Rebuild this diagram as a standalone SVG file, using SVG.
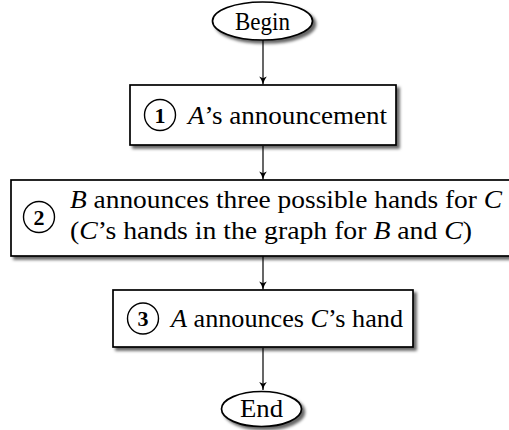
<svg xmlns="http://www.w3.org/2000/svg" width="509" height="430" viewBox="0 0 509 430">
<defs>
<filter id="sh" x="-10%" y="-10%" width="130%" height="140%"><feDropShadow dx="3" dy="3" stdDeviation="1.5" flood-color="#000" flood-opacity="0.6"/></filter>
<marker id="ar" markerUnits="userSpaceOnUse" markerWidth="10" markerHeight="10" refX="9" refY="5" orient="auto"><path d="M1,1.2 Q4.5,4 9,5 Q4.5,6 1,8.8 L2.8,5 Z" fill="#000"/></marker>
<style>
.bx{fill:#fff;stroke:#000;stroke-width:1.7;filter:url(#sh)}
.nm{fill:none;stroke:#000;stroke-width:1.4}
.t{font-family:"Liberation Serif","Times New Roman",serif;font-size:25px;fill:#000}
.d{font-family:"Liberation Serif","Times New Roman",serif;font-size:22px;font-weight:bold;fill:#000}
.i{font-style:italic}
.ln{stroke:#000;stroke-width:1.2;fill:none;marker-end:url(#ar)}
</style>
</defs>
<g id="connectors">
<line class="ln" x1="263" y1="40" x2="263" y2="84.5"/>
<line class="ln" x1="263" y1="146" x2="263" y2="179.5"/>
<line class="ln" x1="263" y1="256" x2="263" y2="289.5"/>
<line class="ln" x1="263" y1="348" x2="263" y2="390"/>
</g>
<g id="begin">
<ellipse class="bx" cx="262.5" cy="21" rx="50" ry="19"/>
<text class="t" x="262.5" y="29.5" text-anchor="middle" textLength="55" lengthAdjust="spacingAndGlyphs">Begin</text>
</g>
<g id="step1">
<rect class="bx" x="130" y="85" width="266" height="60"/>
<circle class="nm" cx="160" cy="115" r="15.5"/>
<text class="d" x="160" y="122.5" text-anchor="middle">1</text>
<text class="t" x="188" y="123.5" textLength="199" lengthAdjust="spacingAndGlyphs"><tspan class="i">A</tspan>’s announcement</text>
</g>
<g id="step2">
<rect class="bx" x="11" y="180" width="502" height="76"/>
<circle class="nm" cx="39" cy="217" r="15.5"/>
<text class="d" x="39" y="224.5" text-anchor="middle">2</text>
<text class="t" x="70" y="207.5" textLength="432" lengthAdjust="spacingAndGlyphs"><tspan class="i">B</tspan> announces three possible hands for <tspan class="i">C</tspan></text>
<text class="t" x="70" y="238.5" textLength="402" lengthAdjust="spacingAndGlyphs">(<tspan class="i">C</tspan>’s hands in the graph for <tspan class="i">B</tspan> and <tspan class="i">C</tspan>)</text>
</g>
<g id="step3">
<rect class="bx" x="113" y="290" width="300" height="57"/>
<circle class="nm" cx="143" cy="318.5" r="15.5"/>
<text class="d" x="143" y="326" text-anchor="middle">3</text>
<text class="t" x="171" y="327" textLength="232" lengthAdjust="spacingAndGlyphs"><tspan class="i">A</tspan> announces <tspan class="i">C</tspan>’s hand</text>
</g>
<g id="end">
<ellipse class="bx" cx="261.5" cy="409" rx="40" ry="17.5"/>
<text class="t" x="261.5" y="417" text-anchor="middle" textLength="43" lengthAdjust="spacingAndGlyphs">End</text>
</g>
</svg>
